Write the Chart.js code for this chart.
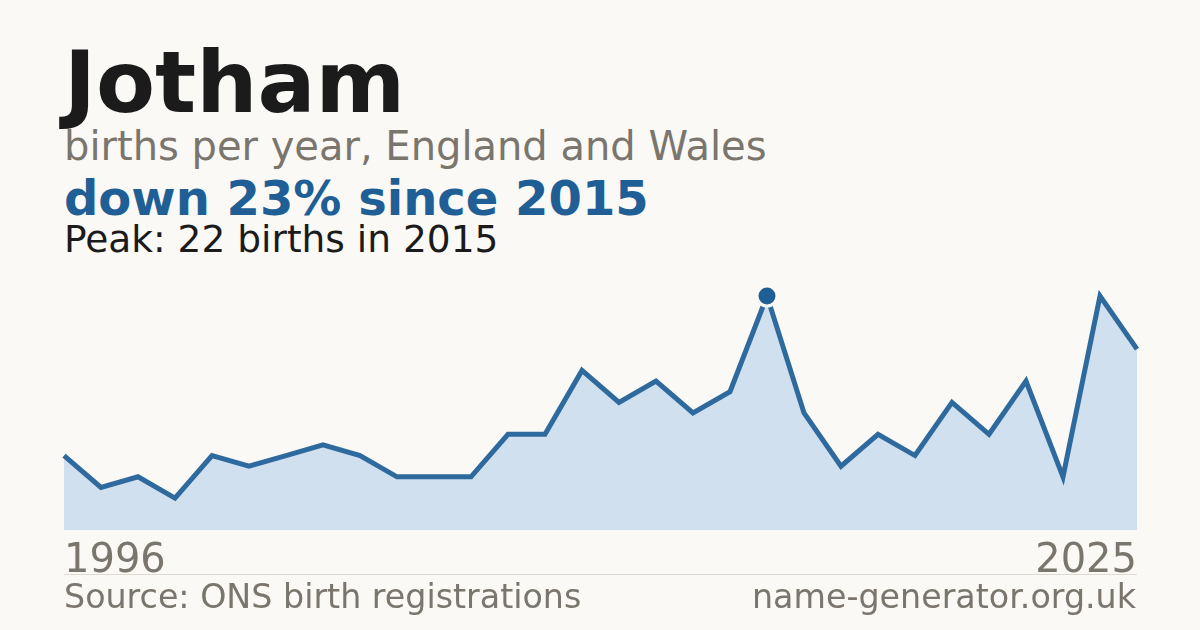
<!DOCTYPE html>
<html>
<head>
<meta charset="utf-8">
<script src="https://cdn.jsdelivr.net/npm/chart.js@4"></script>
<style>
  html, body { margin: 0; padding: 0; }
  body { width: 1200px; height: 630px; background: #faf9f5; position: relative; overflow: hidden; font-family: "DejaVu Sans", sans-serif; }
  .t { position: absolute; left: 64px; line-height: 1; white-space: nowrap; margin: 0; }
  #title { top: 39px; font-size: 86px; font-weight: bold; color: #1b1b1b; }
  #sub { top: 126px; font-size: 40px; color: #7a756d; }
  #head { top: 174px; font-size: 48px; font-weight: bold; color: #1f5f96; }
  #peak { top: 221px; font-size: 37.5px; color: #1b1b1b; }
  #sep { position: absolute; left: 64px; width: 1073px; top: 574px; height: 1px; background: #dedad2; }
  #src { top: 580px; font-size: 33.3px; color: #7a756d; }
  #site { top: 580px; font-size: 33.3px; color: #7a756d; left: auto; right: 64px; }
  #wrap { position: absolute; left: 0; top: 0; width: 1200px; height: 630px; }
</style>
</head>
<body>
<div class="t" id="title">Jotham</div>
<div class="t" id="sub">births per year, England and Wales</div>
<div class="t" id="head">down 23% since 2015</div>
<div class="t" id="peak">Peak: 22 births in 2015</div>
<div id="wrap"><canvas id="c"></canvas></div>
<div id="sep"></div>
<div class="t" id="src">Source: ONS birth registrations</div>
<div class="t" id="site">name-generator.org.uk</div>
<script>
const years = ["1996","1997","1998","1999","2000","2001","2002","2003","2004","2005","2006","2007","2008","2009","2010","2011","2012","2013","2014","2015","2016","2017","2018","2019","2020","2021","2022","2023","2024","2025"];
const births = [7,4,5,3,7,6,7,8,7,5,5,5,9,9,15,12,14,11,13,22,11,6,9,7,12,9,14,5,22,17];
const peakYear = "2015";
const peakIndex = years.indexOf(peakYear);

const ctx = document.getElementById('c');
new Chart(ctx, {
  type: 'line',
  data: {
    labels: years,
    datasets: [{
      data: births,
      borderColor: '#2f6a9f',
      borderWidth: 5,
      backgroundColor: '#d0e0ef',
      fill: 'origin',
      tension: 0,
      clip: false,
      pointRadius: c => c.dataIndex === peakIndex ? 10 : 0,
      pointHoverRadius: c => c.dataIndex === peakIndex ? 10 : 0,
      pointBackgroundColor: '#1f5f96',
      pointBorderColor: '#faf9f5',
      pointBorderWidth: 3,
      borderJoinStyle: 'miter',
      borderCapStyle: 'butt'
    }]
  },
  options: {
    responsive: true,
    maintainAspectRatio: false,
    animation: false,
    events: [],
    layout: { padding: { left: 64, right: 63, top: 296, bottom: 54 } },
    plugins: { legend: { display: false }, tooltip: { enabled: false } },
    scales: {
      y: { display: false, min: 0, max: 22 },
      x: {
        offset: false,
        grid: { display: false, drawTicks: false },
        border: { display: false },
        afterFit: s => { s.height = 46; },
        ticks: {
          autoSkip: false,
          maxRotation: 0,
          align: 'inner',
          padding: 8,
          color: '#7a756d',
          font: { family: 'DejaVu Sans', size: 40 },
          callback: (v, i) => (i === 0 || i === years.length - 1) ? years[i] : ''
        }
      }
    }
  }
});
</script>
</body>
</html>
